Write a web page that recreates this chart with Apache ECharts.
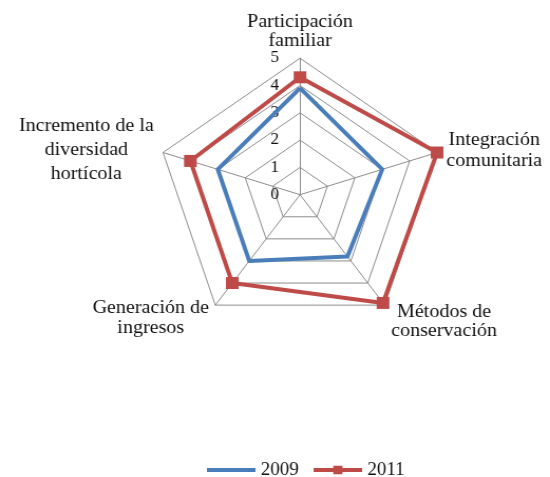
<!DOCTYPE html>
<html>
<head>
<meta charset="utf-8">
<script src="https://cdn.jsdelivr.net/npm/echarts@6/dist/echarts.min.js"></script>
<style>
  html, body { margin: 0; padding: 0; background: #fff; overflow: hidden; }
  #wrap { width: 550px; height: 477px; overflow: hidden; }
  /* 原图被横向拉伸过，这里同样拉伸 */
  #chart { width: 521px; height: 477px; transform: scaleX(1.0557); transform-origin: 0 0; }
</style>
</head>
<body>
<div id="wrap"><div id="chart"></div></div>
<script>
// 指标（逆时针排列，使其在图上呈顺时针）
const indicatorNames = [
  'Participación\nfamiliar',
  'Incremento de la\ndiversidad\nhortícola',
  'Generación de\ningresos',
  'Métodos de\nconservación',
  'Integración\ncomunitaria'
];
const maxValue = 5;
const seriesNames = ['2009', '2011'];
const values2009 = [3.9, 3, 3, 2.8, 3];
const values2011 = [4.3, 4, 4, 4.9, 5];

const FONT = 'Liberation Serif';
const nameFontSize = 19;
// 每个标签的行高 / 顶部空行高度（微调位置）
const nameLineHeights = [19, 24, 20, 19, 21];
const nameSpacer = [0, 0, 12, 20, 0];

// 测量文字宽度，用于多行居中
const ctx = document.createElement('canvas').getContext('2d');
ctx.font = nameFontSize + 'px "' + FONT + '"';
const measure = (s) => Math.ceil(ctx.measureText(s).width) + 2;

let rich = {};
indicatorNames.forEach((n, i) => {
  let w = Math.max(...n.split('\n').map(measure));
  rich['w' + i] = { width: w, align: 'center', fontSize: nameFontSize, lineHeight: nameLineHeights[i], fontFamily: FONT, color: '#111' };
  rich['s' + i] = { width: w, fontSize: 1, lineHeight: nameSpacer[i] };
});

// 图例图标
const lineIcon = 'path://M0,0M0,13M0,4.5L48,4.5L48,8.5L0,8.5Z';
const lineRectIcon = 'path://M0,0M0,13M0,4.5L19.5,4.5L19.5,2L28.5,2L28.5,4.5L48,4.5L48,8.5L28.5,8.5L28.5,11L19.5,11L19.5,8.5L0,8.5Z';

let chart = echarts.init(document.getElementById('chart'));
let option = {
  textStyle: {
    fontFamily: FONT
  },
  legend: {
    top: 456,
    left: 191,
    itemWidth: 46,
    itemHeight: 13,
    itemGap: 14,
    textStyle: {
      color: '#111',
      fontSize: 18,
      fontFamily: FONT
    },
    data: [
      { name: seriesNames[0], icon: lineIcon },
      { name: seriesNames[1], icon: lineRectIcon }
    ]
  },
  radar: {
    center: [284.2, 194.7],
    radius: 136.5,
    splitNumber: 5,
    shape: 'polygon',
    startAngle: 90,
    axisNameGap: 8,
    axisName: {
      formatter: (name) => {
        let idx = indicatorNames.indexOf(name);
        let lines = name.split('\n').map(s => `{w${idx}|${s}}`);
        if (nameSpacer[idx] > 0) {
          lines.unshift(`{s${idx}| }`);
        }
        return lines.join('\n');
      },
      rich: rich
    },
    indicator: indicatorNames.map((n, i) => {
      let item = { name: n, max: maxValue, min: 0 };
      if (i === 0) {
        item.axisLabel = {
          show: true,
          color: '#111',
          fontSize: 16,
          fontFamily: FONT,
          margin: 20
        };
      }
      return item;
    }),
    axisLine: {
      lineStyle: { color: '#8c8c8c', width: 1 }
    },
    splitLine: {
      lineStyle: { color: '#8c8c8c', width: 1 }
    },
    splitArea: { show: false },
    axisTick: { show: false }
  },
  series: [
    {
      type: 'radar',
      data: [
        {
          name: seriesNames[0],
          value: values2009,
          symbol: 'none',
          lineStyle: { color: '#4a7ebb', width: 4 },
          itemStyle: { color: '#4a7ebb' }
        },
        {
          name: seriesNames[1],
          value: values2011,
          symbol: 'rect',
          symbolSize: 12,
          lineStyle: { color: '#be4b48', width: 4 },
          itemStyle: { color: '#be4b48' }
        }
      ]
    }
  ]
};
chart.setOption(option);
</script>
</body>
</html>
